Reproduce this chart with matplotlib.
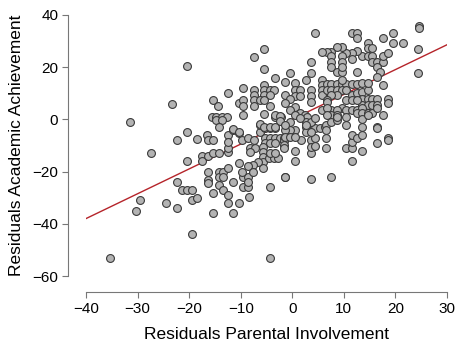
import matplotlib
matplotlib.use("Agg")
import matplotlib.pyplot as plt
import numpy as np

plt.rcParams['font.family'] = ['Liberation Sans', 'DejaVu Sans']

pts = [
(-35.4,-53),(-31.4,-0.9),(-30.4,-35),(-29.5,-30.9),(-27.4,-13),(-24.4,-31.9),(-23.3,6),(-22.4,-7.9),
(-22.4,-23.9),(-22.4,-34),(-21.4,-27),(-20.5,-27),(-19.4,-27),(-20.5,20.3),(-20.5,-4.9),(-20.5,-15.9),
(-19.4,-30.9),(-19.4,-44),(-18.4,-30),(-18.5,-7.6),(-17.5,-14),(-17.5,-15.9),(-16.6,-5.9),(-16.4,-14),
(-16.4,-20),(-16.4,-23.2),(-16.4,-7.9),(-16.4,-24.5),(-15.4,-7.9),(-15.4,-13),(-14.3,-13),
(-15.4,-28.3),(-15.4,-36),(-14.3,-20),(-14.3,-21.9),(-13.4,-20),(-13.4,-21.9),(-14.3,-25.1),(-13.4,-27),
(-12.4,-28.8),(-12.4,-32.1),(-10.4,-32.1),(-11.4,-36),(-12.4,-18.7),(-12.4,-12.6),(-12.4,-11),(-12.4,-6),
(-12.4,-8.8),(-11.4,-4),(-10.4,-5.3),(-9.8,-7.9),(-8.5,-7.2),(-7.4,-7.9),(-6.3,-4.7),(-6.3,-2.1),
(-5.3,-3.4),(-4.3,-3.4),(-3.3,-3.4),(-3.3,1),(-2.1,1),(-5.3,-7.2),(-4.3,-7.2),(-3.3,-7.2),(-2.3,-7.2),
(-5.3,-9.2),(-4.3,-9.2),(-3.3,-9.2),(-8.2,-11),(-7.2,-11),(-8.2,-12.4),(-5.6,-10.4),(-5.6,-12.4),
(-5.6,-14.3),(-5.6,-16.2),(-5.6,-18.6),(-4.6,-14.9),(-3.6,-14.9),(-2.7,-14.9),(-4.3,-13),(-3.3,-13),
(-6.6,-16.2),(-7.6,-17.5),(-10.4,-16.8),(-8.5,-17.7),(-1.5,-21.9),(-4.4,-25.8),(-9.5,-21.9),(-8.5,-21.9),
(-9.8,-20),(-7.6,-20),(-9.5,-25.8),(-8.5,-25.8),(-8.5,-23.9),(-11.4,-23.9),(-8.3,-29.6),(-4.4,-53),
(-15.6,1),(-14.7,1),(-13.7,1),(-12.7,1),(-14.7,-0.2),(-13.7,-0.2),(-14.3,-3.1),(-15.4,7.4),(-14.5,5.1),
(-12.4,10.2),(-10.4,6.4),(-9.5,7.4),(-9.5,5.1),(-9.5,12.1),(-9.5,1.7),(-11.4,-3.8),(-10.4,-4.7),
(-7.4,11.3),(-7.4,9.3),(-7.4,7.4),(-7.4,5.1),(-5.4,13.2),(-5.4,11.3),(-4.4,11.3),(-3.5,11.3),(-5.4,9.3),
(-4.4,9.3),(-6.3,7.4),(-5.4,7.4),(-4.4,5.1),(-5.4,27),(-7.4,24),(-5.4,19.2),(-3.3,16),(-5.4,2),(-3.3,1.7),
(-2.4,1.3),(-2.4,-0.6),(-6.3,-1.8),(-5.4,-2.8),(-4.4,-2.8),(-3.4,-3.1),
(-1.4,14.5),(-0.4,17.7),(2.6,15.1),(3.6,17.7),(3.6,22.1),(0.5,13.8),(0.5,11.3),(0.5,9),(1.5,11.3),(1.5,9),
(-1.4,9.3),(-0.4,8),(3.6,11.3),(3.6,9),(3.6,6.8),(5.7,15.1),(5.7,13.2),(5.7,11.3),(5.7,9.4),(6.7,13.5),
(7.6,13.5),(8.6,13.5),(9.6,13.5),(10.5,13.5),(11.5,13.5),(12.5,13.5),(6.7,11.3),(7.6,11.3),(8.6,11.3),
(9.6,11.3),(10.5,11.3),(9.6,15.1),(11.5,9.3),(12.5,10),(13.5,10.6),(14.6,11.3),(13.5,13.8),(14.6,13.8),
(17.5,13.2),(18.5,8),(18.5,6.2),(13.5,8),(14.6,8),(15.5,8),(16.5,8),(13.5,5.6),(14.6,5.6),(15.5,5.6),
(16.5,5.6),(10.5,7.4),(11.5,7.4),(12.5,7.4),(8.6,9.3),(7.6,9.3),(6.7,7.4),(9.6,4.5),(10.5,3.6),(11.5,3.6),
(12.5,3.6),(13.5,4.5),(12.5,2.3),(13.5,2.3),(14.6,2.3),(15.5,2.3),(7.6,3.6),(8.6,3.6),(7.6,1.7),(8.6,1.7),
(5.7,3.6),(0.5,4.6),(-0.4,3.6),(1.5,2.3),(2.5,1.7),(0.5,1.7),(-1.4,6.2),(17.5,1.7),(6.7,6.8),(6.7,4.3),
(6.7,1.7),(2.8,1),(2.7,-0.9),(2.7,-2.8),(4.4,-3.4),(5.4,-3.4),(6.3,-2.8),(1.5,0.4),(3.6,-0.9),
(4.5,0.4),(6.5,-2.1),(7.5,-0.9),(8.6,-0.2),(8.6,1),(10.5,1),(13.6,0.2),(14.6,1.7),
(4.5,33.2),(11.5,33.2),(12.6,33.2),(12.6,31.1),(17.5,31.1),(19.6,33.2),(19.6,29.2),(21.5,29.2),
(24.4,26.9),(24.4,17.7),(24.5,35.8),(24.5,34.9),(14.6,29.2),(14.6,27.2),(15.5,27.2),(13.6,24.3),
(14.6,24.3),(15.5,24.3),(15.5,22.1),(16.5,22.1),(17.5,22.1),(16.5,20.2),(17.5,24.3),(18.5,25.3),
(17.1,18.3),(16.4,16.4),(12.6,18.3),(12.6,26.3),(11.5,25.3),(10.5,25.3),(11.5,23),(9.6,27.9),(8.6,27.9),
(7.6,26),(6.7,26),(5.7,26),(7.6,24.1),(9.6,24.1),(9.6,22.1),(7.6,22.1),(7.6,20.2),(8.6,18.3),(9.6,18.3),
(9.6,20.2),(16.5,4.3),(16.5,-2.8),(18.6,-7.2),(13.6,-2.8),
(-1.4,-21.9),(3.6,-22.9),(7.5,-21.9),(0.5,-12),(0.5,-15.9),(3.6,-13),(6.5,-11),(11.5,-15.9),(10.4,-11),
(11.5,-11),(11.5,-8.8),(11.5,-6),(12.6,-7),(13.6,-6),(13.6,-12),(16.5,-3.2),(16.5,-8.9),(18.5,-7.9),
(3.6,-7.9),(3.6,-10.4),(4.5,-7),(4.5,-10),(6.5,-4),(6.5,-7),(1.7,-7.9),(2.6,-4.7),(2.6,-2.1),(3.6,-5),
(0.5,-4),(-0.4,-4),(-1.4,-4),(-1.6,-7.2),(-1.6,-8.4),(-1.6,-9.7),(-1.6,-11),(-1.4,-6.6),(-0.4,-6.6),
(0.5,-6.6),(-0.4,-0.9),(-1.4,-2.1),(10.5,-2),
]
parental = [p[0] for p in pts]
achievement = [p[1] for p in pts]

line_x = [-40, 30]
line_y = [-38.0, 28.6]

x_ticks = [-40, -30, -20, -10, 0, 10, 20, 30]
y_ticks = [-60, -40, -20, 0, 20, 40]

fig = plt.figure(figsize=(4.55, 3.44), dpi=100)
ax = fig.add_axes([86/455, 68/344, 361/455, 261/344])
ax.plot(line_x, line_y, color='#b5242a', lw=1.0, zorder=2)
ax.scatter(parental, achievement, s=32, facecolor='#b3b3b3', edgecolor='#3a3a3a',
           linewidths=0.8, zorder=3, clip_on=False)
ax.set_xlim(-40, 30)
ax.set_ylim(-60, 40)
ax.set_xticks(x_ticks)
ax.set_yticks(y_ticks)
for s in ['top', 'right']:
    ax.spines[s].set_visible(False)
ax.spines['left'].set_position(('outward', 13))
ax.spines['bottom'].set_position(('outward', 11.5))
for s in ['left', 'bottom']:
    ax.spines[s].set_color('#777777')
    ax.spines[s].set_linewidth(0.8)
ax.tick_params(axis='both', length=4, width=0.8, color='#777777', labelsize=11, pad=3)
ax.set_xlabel('Residuals Parental Involvement', fontsize=12.5, labelpad=8)
ax.set_ylabel('Residuals Academic Achievement', fontsize=12.5, labelpad=6)
fig.savefig('out.png', dpi=100)
